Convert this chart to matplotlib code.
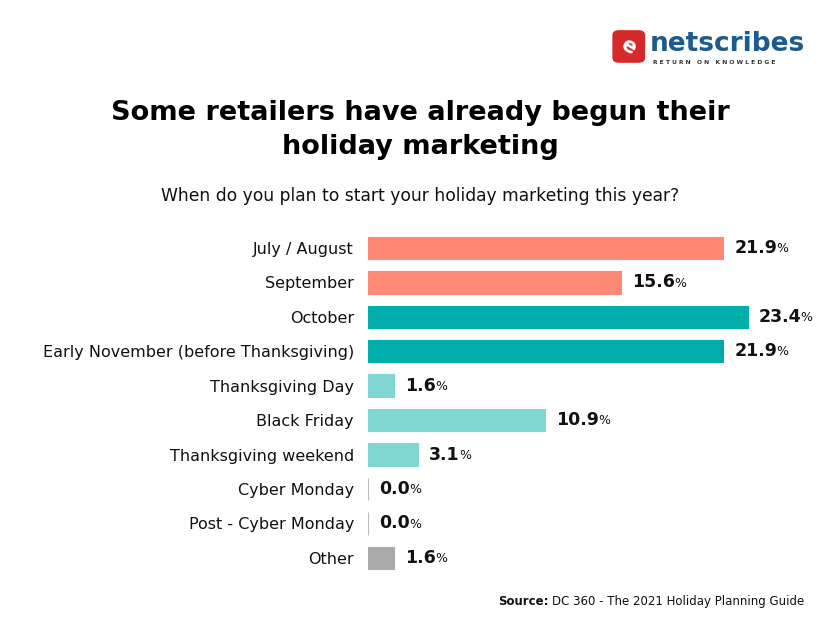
import matplotlib

matplotlib.use("Agg")
import matplotlib.pyplot as plt  # noqa: E402
from matplotlib.patches import FancyBboxPatch  # noqa: E402
from matplotlib.text import Annotation  # noqa: E402

categories = [
    "July / August",
    "September",
    "October",
    "Early November (before Thanksgiving)",
    "Thanksgiving Day",
    "Black Friday",
    "Thanksgiving weekend",
    "Cyber Monday",
    "Post - Cyber Monday",
    "Other",
]
values = [21.9, 15.6, 23.4, 21.9, 1.6, 10.9, 3.1, 0.0, 0.0, 1.6]
colors = ["#FF8876", "#FF8876", "#00ADA8", "#00ADA8", "#80D6D3",
          "#80D6D3", "#80D6D3", "#BBBBBB", "#BBBBBB", "#AAAAAA"]

plt.rcParams["font.family"] = ["DejaVu Sans"]

fig = plt.figure(figsize=(8.4, 6.41), dpi=100)
ax = fig.add_axes([0.438, 0.103, 0.562, 0.537])

ypos = list(range(len(categories)))
ax.barh(ypos, values, height=0.65, color=colors, edgecolor=colors, linewidth=0.8)
ax.set_ylim(len(categories) - 0.5, -0.5)
ax.set_xlim(0, 29.1)
ax.set_yticks(ypos)
ax.set_yticklabels(categories, fontsize=11.5, color="#111111")
ax.tick_params(axis="y", length=0, pad=10)
ax.set_xticks([])
for s in ax.spines.values():
    s.set_visible(False)

for y, v in zip(ypos, values):
    t = ax.annotate(f"{v:.1f}", xy=(v, y), xytext=(8, 0), textcoords="offset points",
                    ha="left", va="center", fontsize=12.5, fontweight="bold", color="#111111")
    ax.annotate("%", xy=(1, 0.5), xycoords=t, xytext=(-0.5, -0.5), textcoords="offset points",
                ha="left", va="center", fontsize=9, color="#111111")

fig.text(0.5, 0.797, "Some retailers have already begun their\nholiday marketing",
         ha="center", va="center", fontsize=19.5, fontweight="bold", linespacing=1.42,
         color="#000000")
fig.text(0.5, 0.695, "When do you plan to start your holiday marketing this year?",
         ha="center", va="center", fontsize=12.3, color="#111111")

src = fig.text(0.958, 0.062, "DC 360 - The 2021 Holiday Planning Guide",
               ha="right", va="center", fontsize=8.5, color="#111111")
fig.add_artist(Annotation(
    "Source:", xy=(0, 0.5), xycoords=src, xytext=(-3, 0), textcoords="offset points",
    ha="right", va="center", fontsize=8.5, fontweight="bold", color="#111111"))

# logo
logo = FancyBboxPatch((0.729, 0.902), 0.039, 0.051, boxstyle="round,pad=0,rounding_size=0.008",
                      transform=fig.transFigure, facecolor="#D42A2A", edgecolor="none")
fig.patches.append(logo)
fig.text(0.748, 0.927, "e", ha="center", va="center", fontsize=15, fontweight="bold",
         color="white", rotation=-30)
fig.text(0.773, 0.932, "netscribes", ha="left", va="center", fontsize=19, fontweight="bold",
         color="#1D5A8E")
fig.text(0.777, 0.903, "R E T U R N   O N   K N O W L E D G E", ha="left", va="center",
         fontsize=4.3, fontweight="bold", color="#333333")

fig.savefig("out.png", dpi=100, facecolor="white")
